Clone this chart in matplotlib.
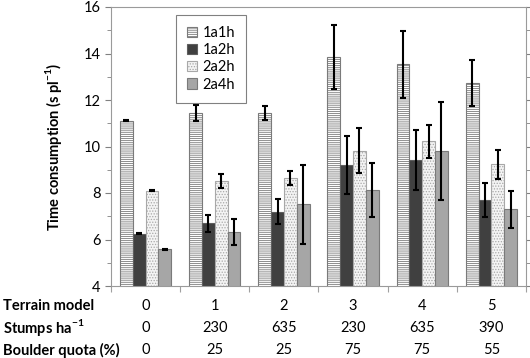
import numpy as np
import matplotlib
matplotlib.use("Agg")
import matplotlib.pyplot as plt

plt.rcParams["font.family"] = ["Lato", "DejaVu Sans"]
plt.rcParams["mathtext.fontset"] = "custom"
plt.rcParams["mathtext.rm"] = "Lato"
plt.rcParams["mathtext.bf"] = "Lato:bold"
plt.rcParams["hatch.linewidth"] = 0.6

terrain = ["0", "1", "2", "3", "4", "5"]
stumps = ["0", "230", "635", "230", "635", "390"]
boulder = ["0", "25", "25", "75", "75", "55"]
series = ["1a1h", "1a2h", "2a2h", "2a4h"]

v_1a1h = [11.1, 11.43, 11.43, 13.84, 13.53, 12.73]
v_1a2h = [6.24, 6.7, 7.2, 9.22, 9.42, 7.7]
v_2a2h = [8.1, 8.52, 8.63, 9.82, 10.22, 9.23]
v_2a4h = [5.58, 6.31, 7.51, 8.12, 9.82, 7.3]

e_1a1h = [0.02, 0.34, 0.3, 1.37, 1.45, 1.0]
e_1a2h = [0.02, 0.37, 0.55, 1.25, 1.3, 0.75]
e_2a2h = [0.02, 0.3, 0.3, 0.96, 0.7, 0.64]
e_2a4h = [0.02, 0.56, 1.7, 1.17, 2.1, 0.8]

values = [v_1a1h, v_1a2h, v_2a2h, v_2a4h]
errors = [e_1a1h, e_1a2h, e_2a2h, e_2a4h]
faces = ["white", "#404040", "#f4f4f4", "#a6a6a6"]
hatches = ["--------", None, "......", None]
edges = ["#7a7a7a", "#5e5e5e", "#a8a8a8", "#7a7a7a"]

fig = plt.figure(figsize=(5.3, 3.58), dpi=100)
ax = fig.add_axes([111 / 530, 1 - 286 / 358, 415 / 530, 279 / 358])

x = np.arange(len(terrain))
w = 0.185
for i, name in enumerate(series):
    xs = x + (i - 1.5) * w
    ax.bar(xs, values[i], w, bottom=0, color=faces[i], edgecolor=edges[i],
           hatch=hatches[i], linewidth=0.8, label=name, zorder=2)
    ax.errorbar(xs, values[i], yerr=errors[i], fmt="none", ecolor="black",
                elinewidth=1.5, capsize=2.5, capthick=1.5, zorder=3)

ax.set_xlim(-0.5, 5.5)
ax.set_ylim(4, 16)
ax.set_yticks(range(4, 17, 2))
ax.set_yticks(range(5, 16, 2), minor=True)
ax.set_xticks(np.arange(-0.5, 6, 1))
ax.set_xticklabels([])
ax.tick_params(axis="y", which="both", right=True, direction="out",
               colors="#808080", labelcolor="black", labelsize=10.5)
ax.tick_params(axis="y", which="major", length=4)
ax.tick_params(axis="y", which="minor", length=3)
ax.tick_params(axis="x", length=4, colors="#a0a0a0")
for s in ax.spines.values():
    s.set_color("#9a9a9a")

ax.set_ylabel(r"Time consumption (s pl$^{\mathbf{-1}}$)", fontweight="bold",
              fontsize=10.5, labelpad=14)

leg = ax.legend(loc="upper left", bbox_to_anchor=(0.157, 0.971), fontsize=10.5,
                handlelength=0.7, handleheight=0.7, handletextpad=0.35,
                labelspacing=0.22, borderpad=0.75, borderaxespad=0,
                fancybox=False, framealpha=1, edgecolor="#808080")
leg.get_frame().set_linewidth(0.8)

rows = [("Terrain model", terrain, 306), (r"Stumps ha$^{\mathbf{-1}}$", stumps, 328),
        ("Boulder quota (%)", boulder, 350)]
for label, vals, ypix in rows:
    yf = 1 - ypix / 358
    fig.text(3 / 530, yf, label, fontweight="bold", fontsize=10.5, va="center")
    for xi, v in zip(x, vals):
        xf = (111 + (xi + 0.5) * 415 / 6) / 530
        fig.text(xf, yf, v, fontsize=10.5, ha="center", va="center")

fig.savefig("out.png", dpi=100)
